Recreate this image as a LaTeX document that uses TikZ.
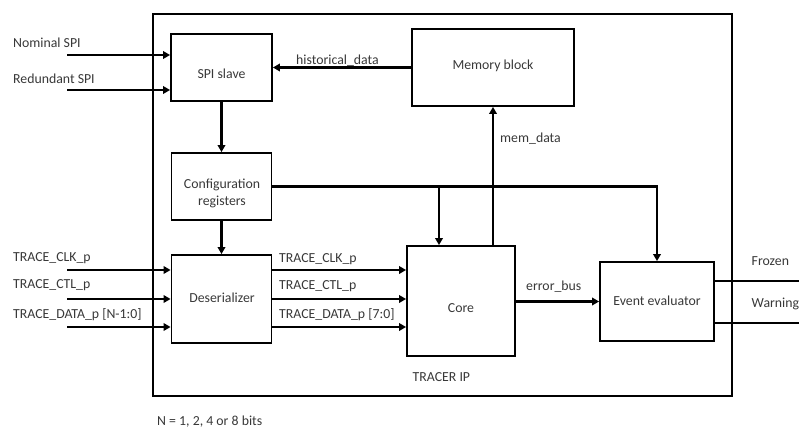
\documentclass[tikz,border=0pt]{standalone}
\usepackage{fontspec}
\setmainfont{Carlito}
\usetikzlibrary{arrows.meta}
\begin{document}
\begin{tikzpicture}[x=1pt,y=-1pt,
  blk/.style={draw,line width=1.8pt,inner sep=0pt},
  sig/.style={line width=2.6pt,-{Triangle[length=7pt,width=7.5pt]}},
  wire/.style={line width=2.6pt},
  txt/.style={font=\fontsize{13.8}{16}\selectfont,inner sep=0pt,text=black!78,text height=9pt,text depth=3pt},
  lt/.style={txt,anchor=west}]
\useasboundingbox (0,0) rectangle (799,430);
% outer IP box
\node[draw,line width=1.4pt,minimum width=579pt,minimum height=382pt,inner sep=0pt] (ip) at (442.5,205) {};
% blocks
\node[blk,minimum width=101pt,minimum height=67pt] (spi) at (221.5,67.5) {};
\node[blk,minimum width=162pt,minimum height=77pt] (mem) at (493,67.5) {};
\node[blk,minimum width=100pt,minimum height=67pt] (cfg) at (221.5,186.5) {};
\node[blk,minimum width=100pt,minimum height=88pt] (des) at (221.5,299) {};
\node[blk,minimum width=108pt,minimum height=110pt] (core) at (461,301) {};
\node[blk,minimum width=114pt,minimum height=79pt] (ev) at (657,301.5) {};
% block texts
\node[txt] (tspi) at (221.5,75.5) {SPI slave};
\node[txt] (tcfg1) at (222,186) {Configuration};
\node[txt] (tcfg2) at (222,202) {registers};
\node[txt] (tmem) at (493,67) {Memory block};
\node[txt] (tdes) at (222,299) {Deserializer};
\node[txt] (tcore) at (461,309) {Core};
\node[txt] (tev) at (657,302) {Event evaluator};
\node[lt] (tip) at (412.5,378) {TRACER IP};
% free ends
\coordinate (nom) at (67,55);
\coordinate (red) at (67,90);
\coordinate (iclk) at (67,270);
\coordinate (ictl) at (67,299);
\coordinate (idat) at (67,327);
\coordinate (ofr) at (800,281);
\coordinate (owa) at (800,323);
\coordinate (br) at (439,186.5);
% input labels
\node[lt] (lnom) at (13,45) {Nominal SPI};
\node[lt] (lred) at (13,81) {Redundant SPI};
\node[lt] (lclk) at (13,258.5) {TRACE\_CLK\_p};
\node[lt] (lctl) at (13,285.5) {TRACE\_CTL\_p};
\node[lt] (ldat) at (13,315) {TRACE\_DATA\_p [N-1:0]};
% connectors
\draw[sig] (nom) -- (spi.west |- nom);
\draw[sig] (red) -- (spi.west |- red);
\draw[sig] (mem.west) -- (spi.east);
\draw[sig] (spi.south) -- (cfg.north);
\draw[sig] (cfg.south) -- (des.north);
\draw[sig] (iclk) -- (des.west |- iclk);
\draw[sig] (ictl) -- (des.west |- ictl);
\draw[sig] (idat) -- (des.west |- idat);
\draw[sig] (des.east |- iclk) -- (core.west |- iclk);
\draw[sig] (des.east |- ictl) -- (core.west |- ictl);
\draw[sig] (des.east |- idat) -- (core.west |- idat);
\draw[sig] (cfg.east) -| (ev.north);
\draw[sig] (br) -- (br |- core.north);
\draw[sig] (core.north -| mem.south) -- (mem.south);
\draw[sig] (core.east |- ev.west) -- (ev.west);
\draw[wire] (ev.east |- ofr) -- (ofr);
\draw[wire] (ev.east |- owa) -- (owa);
% connector labels
\node[lt] (lhist) at (296,62) {historical\_data};
\node[lt] (lmem) at (500,139.5) {mem\_data};
\node[lt] (loclk) at (279,259) {TRACE\_CLK\_p};
\node[lt] (loctl) at (279,286) {TRACE\_CTL\_p};
\node[lt] (lodat) at (279,315) {TRACE\_DATA\_p [7:0]};
\node[lt] (lerr) at (526,287.5) {error\_bus};
\node[lt] (lfr) at (751.5,262) {Frozen};
\node[lt] (lwa) at (751.5,304) {Warning};
\node[txt,anchor=base west,text height=,text depth=] (note) at (157,425) {N = 1, 2, 4 or 8 bits};
\end{tikzpicture}
\end{document}
